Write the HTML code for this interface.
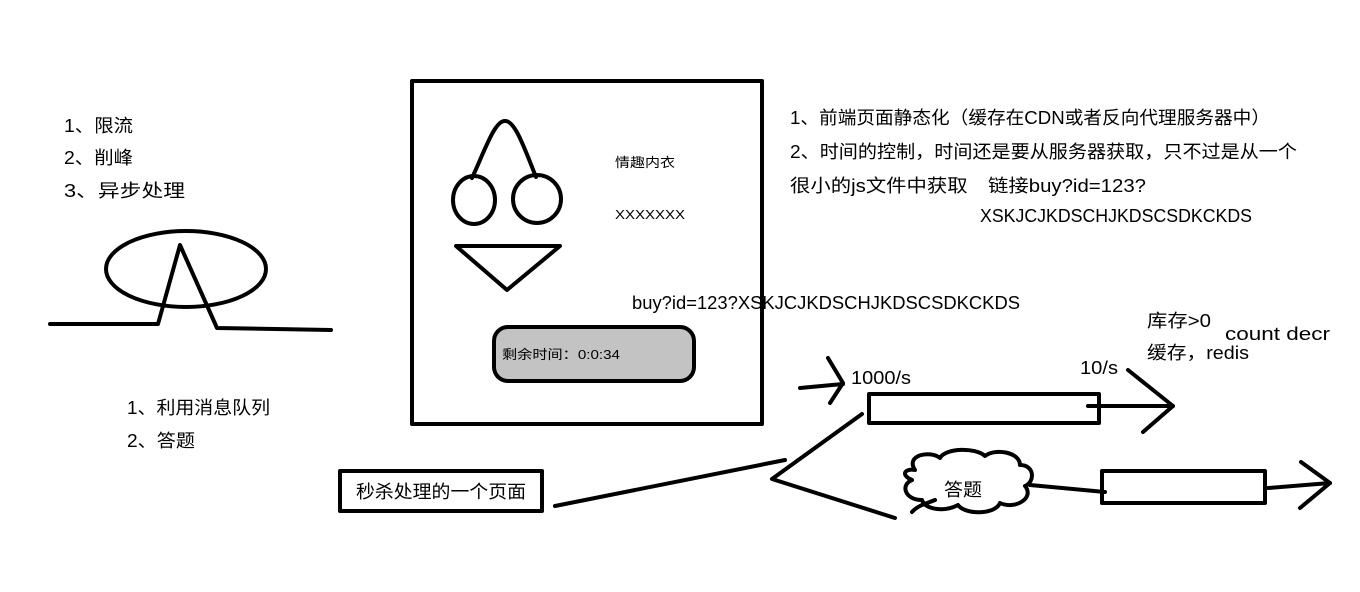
<!DOCTYPE html>
<html><head><meta charset="utf-8"><style>
html,body{margin:0;padding:0;background:#fff;}
svg text{font-family:"Liberation Sans","Noto Sans CJK SC",sans-serif;fill:#000;}
</style></head><body>
<svg width="1360" height="587" viewBox="0 0 1360 587" xmlns="http://www.w3.org/2000/svg">
<g fill="none" stroke="#000" stroke-width="4" stroke-linecap="round" stroke-linejoin="round">
<ellipse cx="186" cy="269" rx="80" ry="38"/>
<polyline points="50,324 158,324 180,245 217,328 331,330"/>
<rect x="412" y="81" width="350" height="343"/>
<path d="M472,178 C485,150 495,120 505,121 C515,120 525,150 536,177"/>
<ellipse cx="474" cy="200" rx="21" ry="24"/>
<ellipse cx="537" cy="199" rx="24" ry="24"/>
<polygon points="456,246 560,246 507,290"/>
<rect x="494" y="327" width="200" height="54" rx="14" fill="#c3c3c3"/>
<rect x="340" y="471" width="202" height="40"/>
<line x1="555" y1="506" x2="785" y2="460"/>
<polyline points="862,414 772,479 895,518"/>
<line x1="800" y1="388" x2="843" y2="384"/>
<polyline points="828,358 843,383 830,403"/>
<rect x="869" y="394" width="230" height="29"/>
<line x1="1088" y1="406" x2="1173" y2="406"/>
<polyline points="1128,370 1173,406 1143,432"/>
<path d="M915,470 C905,455 930,450 940,458 C945,448 975,447 985,456 C995,448 1020,452 1020,465 C1035,465 1035,482 1025,486 C1035,498 1015,510 1000,503 C995,515 965,515 958,505 C945,512 925,510 922,500 C905,500 900,485 912,480 C900,475 905,468 915,470 Z"/>
<path d="M912,512 C918,505 928,503 935,500"/>
<line x1="1030" y1="485" x2="1105" y2="492"/>
<rect x="1102" y="471" width="163" height="32"/>
<line x1="1268" y1="488" x2="1330" y2="483"/>
<polyline points="1301,462 1330,483 1300,508"/>
</g>
<g font-size="18" lengthAdjust="spacingAndGlyphs">
<text x="64" y="132" textLength="69" lengthAdjust="spacingAndGlyphs">1、限流</text>
<text x="64" y="164" textLength="69" lengthAdjust="spacingAndGlyphs">2、削峰</text>
<text x="64" y="197" textLength="121" lengthAdjust="spacingAndGlyphs">3、异步处理</text>
<text x="127" y="414" textLength="143" lengthAdjust="spacingAndGlyphs">1、利用消息队列</text>
<text x="127" y="447" textLength="68" lengthAdjust="spacingAndGlyphs">2、答题</text>
<text x="356" y="498" textLength="170" lengthAdjust="spacingAndGlyphs">秒杀处理的一个页面</text>
<text x="790" y="124" textLength="480" lengthAdjust="spacingAndGlyphs">1、前端页面静态化（缓存在CDN或者反向代理服务器中）</text>
<text x="790" y="158" textLength="507" lengthAdjust="spacingAndGlyphs">2、时间的控制，时间还是要从服务器获取，只不过是从一个</text>
<text x="790" y="192" textLength="356" lengthAdjust="spacingAndGlyphs">很小的js文件中获取　链接buy?id=123?</text>
<text x="980" y="222" textLength="272" lengthAdjust="spacingAndGlyphs">XSKJCJKDSCHJKDSCSDKCKDS</text>
<text x="632" y="309" textLength="388" lengthAdjust="spacingAndGlyphs">buy?id=123?XSKJCJKDSCHJKDSCSDKCKDS</text>
<text x="1147" y="327" textLength="64" lengthAdjust="spacingAndGlyphs">库存&gt;0</text>
<text x="1225" y="340" textLength="105" lengthAdjust="spacingAndGlyphs">count  decr</text>
<text x="1147" y="359" textLength="102" lengthAdjust="spacingAndGlyphs">缓存，redis</text>
<text x="851" y="384" textLength="60" lengthAdjust="spacingAndGlyphs">1000/s</text>
<text x="1080" y="374" textLength="38" lengthAdjust="spacingAndGlyphs">10/s</text>
<text x="944" y="496" textLength="38" lengthAdjust="spacingAndGlyphs">答题</text>
</g>
<g font-size="13">
<text x="615" y="167" textLength="60" lengthAdjust="spacingAndGlyphs">情趣内衣</text>
<text x="615" y="219" textLength="70" lengthAdjust="spacingAndGlyphs">XXXXXXX</text>
<text x="502" y="359" textLength="118" lengthAdjust="spacingAndGlyphs">剩余时间：0:0:34</text>
</g>
</svg>
</body></html>
